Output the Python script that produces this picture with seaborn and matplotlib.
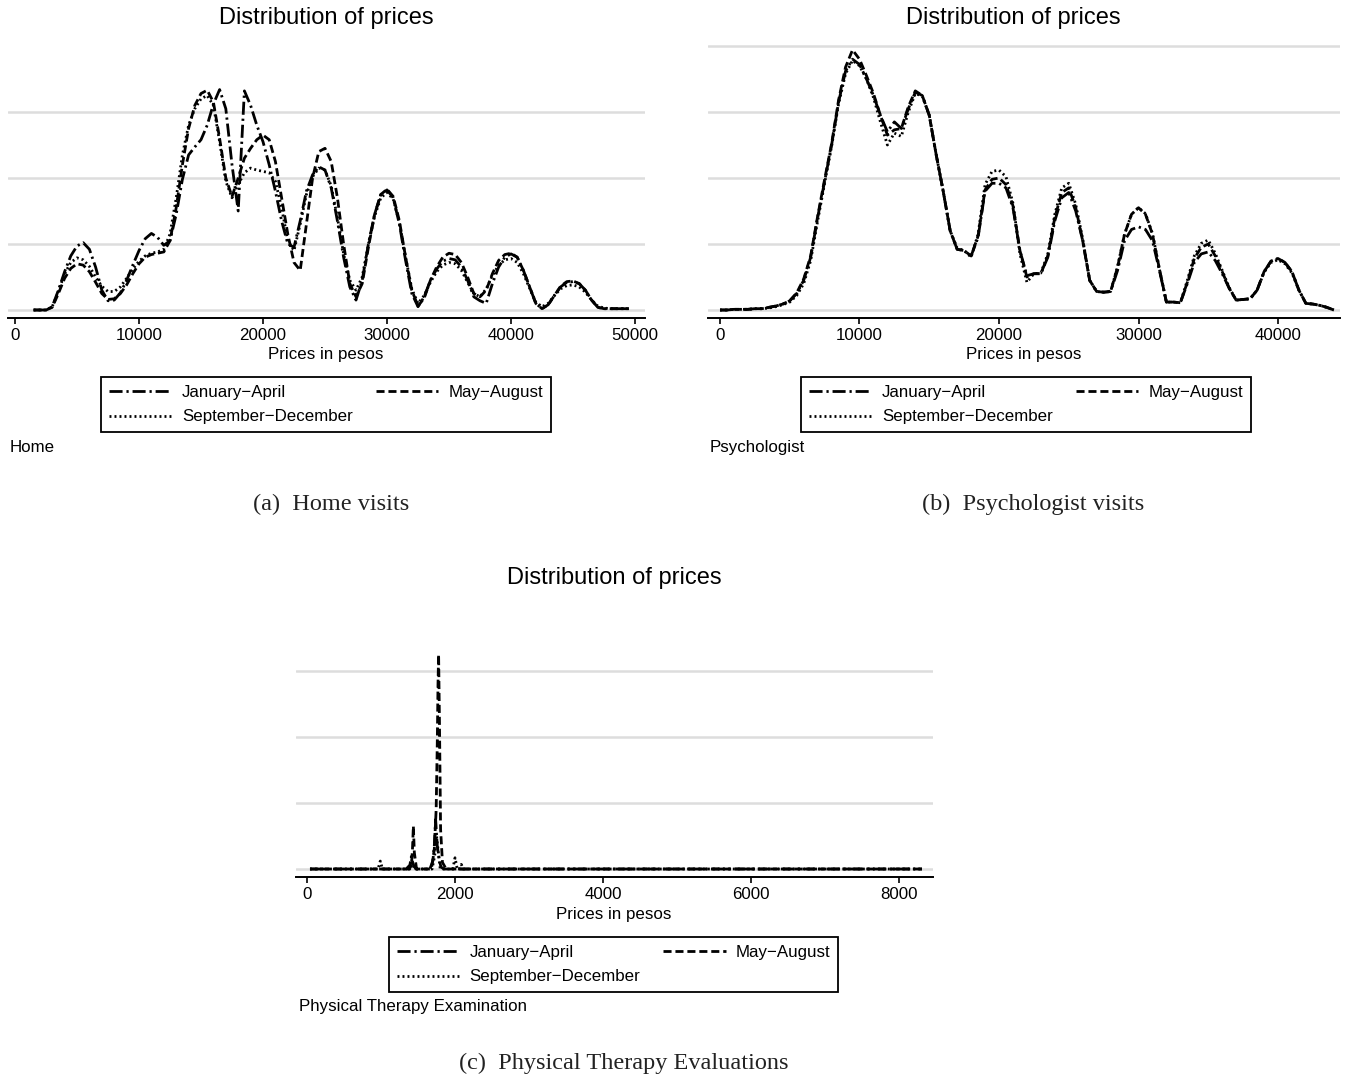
import numpy as np
import pandas as pd
import matplotlib
matplotlib.use("Agg")
import matplotlib.pyplot as plt
from matplotlib.lines import Line2D
import seaborn as sns

# ---------------- data ----------------
periods = ["January\u2212April", "May\u2212August", "September\u2212December"]

# (a) Home visits: density (arbitrary units) on a 500-peso grid
home_price = np.arange(1500, 49501, 500)
home_jan_apr = [
    0.00, 0.00, 0.00, 0.05, 0.30, 0.58, 0.82, 0.97, 1.02, 0.92,
    0.65, 0.30, 0.14, 0.15, 0.26, 0.45, 0.68, 0.90, 1.08, 1.16,
    1.10, 0.98, 1.05, 1.45, 1.98, 2.35, 2.47, 2.58, 2.80, 3.12,
    3.34, 3.05, 2.20, 1.50, 3.32, 3.10, 2.80, 2.55, 2.20, 1.80,
    1.35, 1.00, 0.95, 1.35, 1.80, 2.05, 2.17, 2.12, 1.85, 1.35,
    0.80, 0.35, 0.15, 0.45, 1.00, 1.45, 1.75, 1.82, 1.70, 1.30,
    0.75, 0.25, 0.05, 0.20, 0.45, 0.62, 0.74, 0.78, 0.76, 0.65,
    0.45, 0.20, 0.14, 0.10, 0.40, 0.65, 0.80, 0.85, 0.80, 0.60,
    0.35, 0.10, 0.02, 0.08, 0.22, 0.35, 0.42, 0.43, 0.40, 0.30,
    0.15, 0.04, 0.02, 0.02, 0.02, 0.02, 0.02]
home_may_aug = [
    0.00, 0.00, 0.00, 0.04, 0.25, 0.48, 0.63, 0.70, 0.68, 0.58,
    0.42, 0.25, 0.16, 0.17, 0.25, 0.38, 0.55, 0.70, 0.80, 0.84,
    0.86, 0.88, 1.05, 1.55, 2.20, 2.75, 3.10, 3.28, 3.33, 3.15,
    2.60, 2.00, 1.72, 2.00, 2.30, 2.45, 2.58, 2.65, 2.58, 2.25,
    1.70, 1.15, 0.72, 0.60, 1.30, 2.00, 2.40, 2.45, 2.25, 1.70,
    1.00, 0.40, 0.20, 0.40, 0.95, 1.45, 1.75, 1.83, 1.72, 1.35,
    0.80, 0.30, 0.06, 0.18, 0.45, 0.65, 0.80, 0.86, 0.84, 0.72,
    0.50, 0.25, 0.20, 0.30, 0.55, 0.75, 0.84, 0.86, 0.80, 0.60,
    0.35, 0.10, 0.02, 0.08, 0.22, 0.36, 0.43, 0.44, 0.40, 0.30,
    0.15, 0.04, 0.02, 0.02, 0.02, 0.02, 0.02]
home_sep_dec = [
    0.00, 0.00, 0.00, 0.05, 0.28, 0.55, 0.72, 0.79, 0.76, 0.66,
    0.50, 0.36, 0.28, 0.28, 0.35, 0.48, 0.62, 0.74, 0.82, 0.86,
    0.88, 0.92, 1.15, 1.70, 2.35, 2.80, 3.05, 3.20, 3.25, 3.10,
    2.55, 1.95, 1.70, 1.90, 2.08, 2.15, 2.12, 2.10, 2.08, 1.95,
    1.55, 1.05, 0.90, 1.30, 1.75, 2.02, 2.15, 2.12, 1.88, 1.40,
    0.85, 0.45, 0.30, 0.50, 1.00, 1.42, 1.70, 1.78, 1.68, 1.32,
    0.80, 0.32, 0.10, 0.22, 0.42, 0.58, 0.68, 0.72, 0.70, 0.60,
    0.42, 0.25, 0.20, 0.32, 0.52, 0.68, 0.76, 0.78, 0.72, 0.55,
    0.33, 0.12, 0.05, 0.10, 0.22, 0.32, 0.37, 0.38, 0.35, 0.27,
    0.15, 0.06, 0.03, 0.02, 0.02, 0.02, 0.02]

# (b) Psychologist visits
psy_price = np.arange(0, 44001, 500)
psy_jan_apr = [
    0.00, 0.00, 0.01, 0.01, 0.01, 0.02, 0.02, 0.04, 0.06, 0.09,
    0.14, 0.25, 0.45, 0.80, 1.40, 1.95, 2.50, 3.15, 3.62, 3.80,
    3.72, 3.50, 3.25, 2.95, 2.70, 2.85, 2.75, 3.05, 3.30, 3.25,
    2.95, 2.35, 1.80, 1.20, 0.92, 0.90, 0.82, 1.10, 1.80, 1.92,
    1.92, 1.85, 1.55, 0.90, 0.52, 0.55, 0.55, 0.80, 1.35, 1.70,
    1.78, 1.50, 1.05, 0.45, 0.28, 0.27, 0.28, 0.60, 1.05, 1.22,
    1.26, 1.22, 1.05, 0.60, 0.12, 0.12, 0.11, 0.40, 0.72, 0.85,
    0.88, 0.75, 0.55, 0.33, 0.15, 0.16, 0.17, 0.30, 0.58, 0.74,
    0.78, 0.72, 0.58, 0.30, 0.10, 0.09, 0.07, 0.04, 0.00]
psy_may_aug = [
    0.00, 0.00, 0.01, 0.01, 0.01, 0.02, 0.02, 0.04, 0.06, 0.09,
    0.14, 0.26, 0.47, 0.82, 1.42, 1.98, 2.52, 3.18, 3.68, 3.94,
    3.80, 3.55, 3.28, 2.95, 2.65, 2.73, 2.75, 3.08, 3.32, 3.25,
    2.95, 2.35, 1.80, 1.20, 0.92, 0.90, 0.82, 1.12, 1.82, 1.98,
    2.00, 1.90, 1.58, 0.90, 0.50, 0.55, 0.55, 0.82, 1.40, 1.78,
    1.85, 1.55, 1.05, 0.45, 0.28, 0.27, 0.28, 0.65, 1.15, 1.45,
    1.55, 1.45, 1.15, 0.62, 0.12, 0.12, 0.11, 0.42, 0.78, 0.95,
    1.00, 0.82, 0.58, 0.33, 0.15, 0.16, 0.17, 0.30, 0.58, 0.74,
    0.78, 0.72, 0.58, 0.30, 0.10, 0.09, 0.07, 0.04, 0.00]
psy_sep_dec = [
    0.00, 0.00, 0.01, 0.01, 0.01, 0.02, 0.02, 0.03, 0.05, 0.08,
    0.12, 0.22, 0.40, 0.75, 1.35, 1.92, 2.48, 3.12, 3.58, 3.78,
    3.70, 3.50, 3.22, 2.85, 2.50, 2.68, 2.63, 3.00, 3.28, 3.24,
    2.95, 2.35, 1.80, 1.20, 0.94, 0.90, 0.80, 1.15, 1.90, 2.10,
    2.12, 2.02, 1.62, 0.85, 0.42, 0.55, 0.56, 0.85, 1.45, 1.85,
    1.92, 1.60, 1.08, 0.45, 0.28, 0.27, 0.28, 0.66, 1.15, 1.45,
    1.55, 1.46, 1.16, 0.62, 0.12, 0.12, 0.11, 0.45, 0.82, 1.01,
    1.06, 0.86, 0.60, 0.34, 0.15, 0.16, 0.17, 0.30, 0.57, 0.72,
    0.76, 0.70, 0.56, 0.30, 0.10, 0.09, 0.07, 0.04, 0.00]

# (c) Physical therapy examination
pt_jan_apr_price = [40, 1340, 1390, 1410, 1430, 1470, 1660, 1700, 1720, 1738, 1760, 1785, 1810, 1850, 8310]
pt_jan_apr = [0, 0, 0.06, 0.19, 0.08, 0, 0, 0.12, 0.35, 0.75, 0.35, 0.15, 0.03, 0, 0]
pt_may_aug_price = [40, 1380, 1410, 1425, 1437, 1450, 1480, 1680, 1720, 1745, 1760, 1770, 1778, 1790, 1805, 1830, 1880, 8310]
pt_may_aug = [0, 0, 0.05, 0.30, 0.65, 0.25, 0, 0, 0.30, 0.90, 1.90, 2.80, 3.25, 2.20, 0.60, 0.10, 0, 0]
pt_sep_dec_price = [40, 960, 990, 1020, 1390, 1420, 1450, 1690, 1725, 1750, 1775, 1800, 1970, 2000, 2030, 2060, 2085, 2110, 8310]
pt_sep_dec = [0, 0, 0.12, 0, 0, 0.12, 0, 0, 0.20, 0.50, 0.25, 0, 0, 0.17, 0, 0, 0.07, 0, 0]

home_ticks = [0, 10000, 20000, 30000, 40000, 50000]
psy_ticks = [0, 10000, 20000, 30000, 40000]
pt_ticks = [0, 2000, 4000, 6000, 8000]

# ---------------- style ----------------
W, H = 1350, 1078
sns.set_theme(style="white")
plt.rcParams['font.family'] = ['Liberation Sans', 'DejaVu Sans']
plt.rcParams['text.color'] = 'black'
plt.rcParams['xtick.color'] = 'black'
plt.rcParams['xtick.labelcolor'] = 'black'
plt.rcParams['legend.labelcolor'] = 'black'
FS = 12.2
LW = 2.0
STYLES = {
    periods[0]: (0, (4.7, 1.4, 0.8, 1.4)),
    periods[1]: (0, (2.9, 1.4)),
    periods[2]: (0, (0.7, 1.1)),
}

fig = plt.figure(figsize=(W / 100, H / 100), dpi=100)
fig.patch.set_facecolor('white')


def px_axes(left, top, right, bottom):
    return fig.add_axes([left / W, 1 - bottom / H, (right - left) / W, (bottom - top) / H])


def draw_panel(ax, xs, ys, xlim, ticks, yticks, baseline_px, top_px, bottom_px):
    for x, y, period in zip(xs, ys, periods):
        df = pd.DataFrame({'price': x, 'density': y})
        sns.lineplot(data=df, x='price', y='density', ax=ax, color='black',
                     linewidth=LW, linestyle=STYLES[period], estimator=None,
                     sort=False)
    unit = 66.0
    ax.set_ylim(-(bottom_px - baseline_px) / unit, (baseline_px - top_px) / unit)
    ax.set_xlim(*xlim)
    ax.set_yticks(yticks)
    ax.yaxis.grid(True, color='#dddddd', linewidth=1.8)
    ax.xaxis.grid(False)
    ax.set_axisbelow(True)
    for s in ['left', 'right', 'top']:
        ax.spines[s].set_visible(False)
    ax.spines['bottom'].set_linewidth(1.4)
    ax.spines['bottom'].set_color('black')
    ax.set_xticks(ticks)
    ax.set_xticklabels([str(t) for t in ticks])
    ax.tick_params(axis='x', direction='out', length=4.5, width=1.2, pad=3,
                   labelsize=FS, colors='black', bottom=True)
    ax.tick_params(axis='y', left=False, labelleft=False)
    ax.set_xlabel('')
    ax.set_ylabel('')
    ax.set_facecolor('white')


def add_legend(cx, top):
    order = [periods[0], periods[2], periods[1]]
    handles = [Line2D([], [], color='black', lw=LW, linestyle=STYLES[p]) for p in order]
    leg = fig.legend(handles, order, ncol=2, loc='upper center',
                     bbox_to_anchor=(cx / W, 1 - top / H), frameon=True,
                     fancybox=False, edgecolor='black', framealpha=1,
                     fontsize=FS, handlelength=3.7, handletextpad=0.6,
                     columnspacing=1.35, labelspacing=0.58, borderpad=0.45,
                     borderaxespad=0)
    leg.get_frame().set_linewidth(1.3)
    for t in leg.get_texts():
        t.set_color('black')


def txt(x, y, s, **kw):
    kw.setdefault('color', 'black')
    fig.text(x / W, 1 - y / H, s, **kw)


# panel a
ax_a = px_axes(8, 40, 645, 318)
draw_panel(ax_a, [home_price] * 3, [home_jan_apr, home_may_aug, home_sep_dec],
           (-565, 50806), home_ticks, [0, 1, 2, 3], 310, 40, 318)
# panel b
ax_b = px_axes(708, 40, 1340, 318)
draw_panel(ax_b, [psy_price] * 3, [psy_jan_apr, psy_may_aug, psy_sep_dec],
           (-860, 44444), psy_ticks, [0, 1, 2, 3, 4], 310, 40, 318)
# panel c
ax_c = px_axes(296, 600, 933, 877)
draw_panel(ax_c, [pt_jan_apr_price, pt_may_aug_price, pt_sep_dec_price],
           [pt_jan_apr, pt_may_aug, pt_sep_dec],
           (-149, 8459), pt_ticks, [0, 1, 2, 3], 869, 600, 877)

TFS = 17
for (x, y) in [(326, 18), (1013, 18), (614, 578)]:
    txt(x, y, "Distribution of prices", ha='center', va='center', fontsize=TFS)
for (x, y) in [(326, 355), (1024, 355), (614, 915)]:
    txt(x, y, "Prices in pesos", ha='center', va='center', fontsize=FS)

add_legend(326, 377)
add_legend(1026, 377)
add_legend(613.5, 937)

txt(10, 447, "Home", ha='left', va='center', fontsize=FS)
txt(710, 447, "Psychologist", ha='left', va='center', fontsize=FS)
txt(299, 1006, "Physical Therapy Examination", ha='left', va='center', fontsize=FS)

CFS = 17.5
cap_kw = dict(ha='center', va='center', fontsize=CFS,
              family=['Liberation Serif', 'DejaVu Serif'], color='#222222')
txt(331, 504, "(a)  Home visits", **cap_kw)
txt(1033, 504, "(b)  Psychologist visits", **cap_kw)
txt(624, 1063, "(c)  Physical Therapy Evaluations", **cap_kw)

fig.savefig("out.png", dpi=100, facecolor='white')
